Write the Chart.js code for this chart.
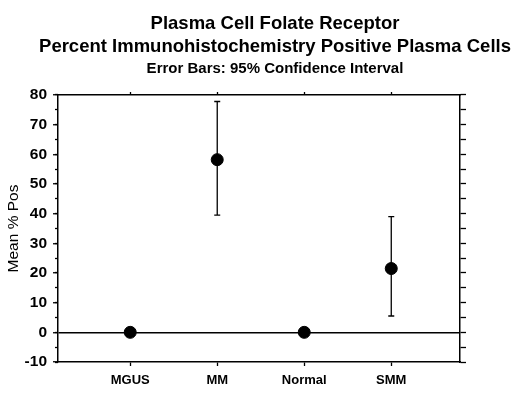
<!DOCTYPE html>
<html>
<head>
<meta charset="utf-8">
<script src="https://cdn.jsdelivr.net/npm/chart.js@4/dist/chart.umd.min.js"></script>
<style>
  html, body { margin: 0; padding: 0; background: #fff; }
  #wrap { width: 520px; height: 397px; }
</style>
</head>
<body>
<div id="wrap"><canvas id="c" width="520" height="397"></canvas></div>
<script>
// data
const categories = ['MGUS', 'MM', 'Normal', 'SMM'];
const meanPos = [0, 58.2, 0, 21.5];
const ciLow = [null, 39.5, null, 5.5];
const ciHigh = [null, 77.8, null, 39];
const titleLines = ['Plasma Cell Folate Receptor', 'Percent Immunohistochemistry Positive Plasma Cells'];
const subTitle = 'Error Bars: 95% Confidence Interval';
const yLabel = 'Mean % Pos';

const FONT = "'Liberation Sans', Arial, sans-serif";
const catTicks = (scale) => { scale.ticks = categories.map((c, i) => ({ value: i })); };

// draws the confidence interval whiskers before the dots, and the y label
const errorBars = {
  id: 'errorBars',
  beforeDatasetsDraw(chart) {
    const { ctx, scales: { x, y } } = chart;
    ctx.save();
    ctx.strokeStyle = '#000';
    ctx.lineWidth = 1.3;
    categories.forEach((c, i) => {
      if (ciLow[i] == null) return;
      const px = x.getPixelForValue(i);
      const lo = y.getPixelForValue(ciLow[i]);
      const hi = y.getPixelForValue(ciHigh[i]);
      ctx.beginPath();
      ctx.moveTo(px, lo); ctx.lineTo(px, hi);
      ctx.moveTo(px - 3, lo); ctx.lineTo(px + 3, lo);
      ctx.moveTo(px - 3, hi); ctx.lineTo(px + 3, hi);
      ctx.stroke();
    });
    ctx.restore();
  },
  afterDraw(chart) {
    const { ctx, chartArea } = chart;
    ctx.save();
    ctx.translate(14, (chartArea.top + chartArea.bottom) / 2);
    ctx.rotate(-Math.PI / 2);
    ctx.font = `15.5px ${FONT}`;
    ctx.fillStyle = '#000';
    ctx.textAlign = 'center';
    ctx.textBaseline = 'middle';
    ctx.fillText(yLabel, 0, 0);
    ctx.restore();
  },
};

new Chart(document.getElementById('c'), {
  type: 'scatter',
  data: {
    datasets: [{
      data: meanPos.map((v, i) => ({ x: i, y: v })),
      backgroundColor: '#000',
      borderColor: '#000',
      pointRadius: 6,
      pointHoverRadius: 6,
    }],
  },
  options: {
    responsive: false,
    animation: false,
    layout: { padding: { left: 18, right: -12 } },
    plugins: {
      legend: { display: false },
      tooltip: { enabled: false },
      title: {
        display: true, text: titleLines, color: '#000',
        font: { family: FONT, size: 18.5, weight: 'bold', lineHeight: 1.243 },
        padding: { top: 12, bottom: 2 },
      },
      subtitle: {
        display: true, text: subTitle, color: '#000',
        font: { family: FONT, size: 15, weight: 'bold', lineHeight: 1.2 },
        padding: { top: 0, bottom: 11 },
      },
    },
    scales: {
      x: {
        type: 'linear', position: 'bottom', min: -0.83, max: 3.79,
        afterBuildTicks: catTicks,
        afterFit: (s) => { s.height = 35; },
        ticks: { autoSkip: false, padding: 7, color: '#000',
          font: { family: FONT, size: 13, weight: 'bold' },
          callback: (v) => categories[v] },
        grid: { drawOnChartArea: false, tickLength: 4, tickColor: '#000', tickWidth: 1.3 },
        border: { display: true, color: '#000', width: 1.5 },
      },
      x2: {
        type: 'linear', position: 'top', min: -0.83, max: 3.79,
        afterBuildTicks: catTicks,
        afterFit: (s) => { s.height = 6; },
        ticks: { display: false },
        grid: { drawOnChartArea: false, tickLength: 3, tickColor: '#000', tickWidth: 1.3 },
        border: { display: true, color: '#000', width: 1.5 },
      },
      y: {
        type: 'linear', position: 'left', min: -10, max: 80, weight: 1,
        afterFit: (s) => { s.width = 40; },
        ticks: { stepSize: 10, padding: 6, color: '#000',
          font: { family: FONT, size: 15.5, weight: 'bold' } },
        grid: {
          color: (c) => (c.tick && c.tick.value === 0 ? '#000' : 'rgba(0,0,0,0)'),
          lineWidth: 1.5, tickColor: '#000', tickWidth: 1.3, tickLength: 5,
        },
        border: { display: true, color: '#000', width: 1.5 },
      },
      yMinor: {
        type: 'linear', position: 'left', min: -10, max: 80, weight: 0,
        afterFit: (s) => { s.width = 0; },
        ticks: { display: false, stepSize: 5 },
        grid: { drawOnChartArea: false, tickLength: 3, tickColor: '#000', tickWidth: 1.3 },
        border: { display: false },
      },
      y2: {
        type: 'linear', position: 'right', min: -10, max: 80,
        afterFit: (s) => { s.width = 72; },
        ticks: { display: false, stepSize: 5 },
        grid: { drawOnChartArea: false, tickLength: 6, tickColor: '#000', tickWidth: 1.3 },
        border: { display: true, color: '#000', width: 1.5 },
      },
    },
  },
  plugins: [errorBars],
});
</script>
</body>
</html>
